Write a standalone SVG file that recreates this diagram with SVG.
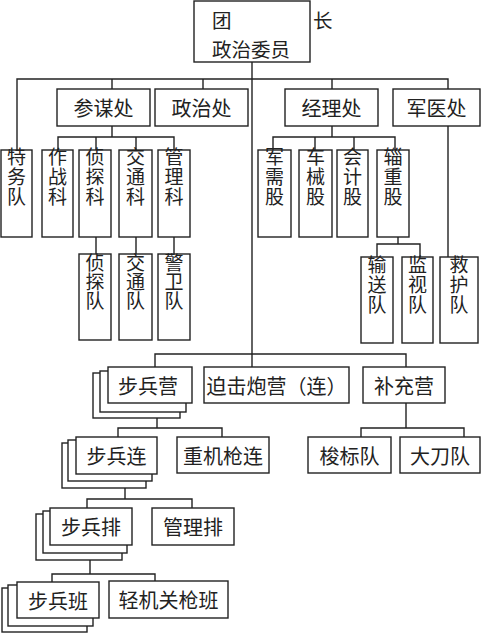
<svg xmlns="http://www.w3.org/2000/svg" width="481" height="634" viewBox="0 0 481 634">
<style>
rect{fill:#fff;stroke:#222;stroke-width:1.4}
.c path{fill:none;stroke:#222;stroke-width:1.4}
text{font-family:"Noto Sans CJK SC",sans-serif;font-size:20px;fill:#222;dominant-baseline:central}
.h{text-anchor:middle}
.t{font-size:19.5px}
.v{writing-mode:vertical-rl;text-orientation:upright;font-size:19px;letter-spacing:1px}
.v2{writing-mode:vertical-rl;text-orientation:upright;font-size:19px;letter-spacing:0px}
</style>
<rect x="0" y="0" width="481" height="634" style="stroke:none"/>
<g class="c">
<path d="M252,62V368"/>
<path d="M17,150V79H448V257"/>
<path d="M112,79V89M203,79V89M332,79V89"/>
<path d="M112,126V137M58,150V137H174V150M96,137V150M136,137V150"/>
<path d="M96,237V254M136,237V254M174,237V254"/>
<path d="M332,126V137M273,150V137H395V150M315,137V150M354,137V150"/>
<path d="M398,237V244M377,257V244H420V257"/>
<path d="M155,367V354H406V367"/>
<path d="M157,418V428M118,437V428H222V437"/>
<path d="M406,403V428M361,437V428H464V437"/>
<path d="M125,488V499M87,508V499H192V508"/>
<path d="M90,560V574M52,582V574H155V581"/>
</g>
<g id="n-head"><rect x="194" y="1" width="116" height="61"/><text class="t" x="212" y="19.5">团</text><text class="t" x="313" y="19.5">长</text><text class="t" x="212" y="48.5">政治委员</text></g>
<g id="n-canmou"><rect x="57" y="89" width="93" height="37"/><text class="h" x="103.5" y="107.5">参谋处</text></g>
<g id="n-zhengzhi"><rect x="155" y="89" width="93" height="37"/><text class="h" x="201.5" y="107.5">政治处</text></g>
<g id="n-jingli"><rect x="285" y="89" width="93" height="37"/><text class="h" x="331.5" y="107.5">经理处</text></g>
<g id="n-junyi"><rect x="393" y="89" width="87" height="37"/><text class="h" x="436.5" y="107.5">军医处</text></g>
<g id="n-tewu"><rect x="1" y="150" width="31" height="87"/><text class="v" x="16.5" y="147.5">特务队</text></g>
<g id="n-zuozhan"><rect x="42" y="150" width="31" height="87"/><text class="v" x="57.5" y="147.5">作战科</text></g>
<g id="n-zhentanke"><rect x="79" y="150" width="32" height="87"/><text class="v" x="95" y="147.5">侦探科</text></g>
<g id="n-jiaotongke"><rect x="119" y="150" width="33" height="87"/><text class="v" x="135.5" y="147.5">交通科</text></g>
<g id="n-guanlike"><rect x="158" y="150" width="32" height="87"/><text class="v" x="174" y="147.5">管理科</text></g>
<g id="n-zhentandui"><rect x="79" y="254" width="32" height="86"/><text class="v2" x="95" y="253.5">侦探队</text></g>
<g id="n-jiaotongdui"><rect x="119" y="254" width="33" height="86"/><text class="v2" x="135.5" y="253.5">交通队</text></g>
<g id="n-jingwei"><rect x="158" y="254" width="32" height="86"/><text class="v2" x="174" y="253.5">警卫队</text></g>
<g id="n-junxu"><rect x="258" y="150" width="33" height="87"/><text class="v" x="274.5" y="147.5">军需股</text></g>
<g id="n-chexie"><rect x="299" y="150" width="33" height="87"/><text class="v" x="315.5" y="147.5">车械股</text></g>
<g id="n-kuaiji"><rect x="337" y="150" width="31" height="87"/><text class="v" x="352.5" y="147.5">会计股</text></g>
<g id="n-zizhong"><rect x="377" y="150" width="32" height="87"/><text class="v" x="393" y="147.5">辎重股</text></g>
<g id="n-shusong"><rect x="361" y="257" width="32" height="86"/><text class="v" x="377" y="255.5">输送队</text></g>
<g id="n-jianshi"><rect x="402" y="257" width="31" height="86"/><text class="v" x="417.5" y="255.5">监视队</text></g>
<g id="n-jiuhu"><rect x="440" y="257" width="38" height="86"/><text class="v" x="459" y="255.5">救护队</text></g>
<g id="n-bubingying"><rect x="93" y="373" width="87" height="45"/><rect x="100" y="371" width="86" height="41"/><rect x="108" y="367" width="84" height="36"/><text class="h" x="148" y="385">步兵营</text></g>
<g id="n-pojipao"><rect x="204" y="367" width="145" height="36"/><text class="h" x="276.5" y="385">迫击炮营（连）</text></g>
<g id="n-buchong"><rect x="363" y="367" width="82" height="36"/><text class="h" x="404" y="385">补充营</text></g>
<g id="n-bubinglian"><rect x="62" y="443" width="84" height="45"/><rect x="68" y="440" width="84" height="41"/><rect x="76" y="437" width="81" height="37"/><text class="h" x="116.5" y="455.5">步兵连</text></g>
<g id="n-zhongjiqiang"><rect x="177" y="437" width="92" height="36"/><text class="h" x="223" y="455">重机枪连</text></g>
<g id="n-suobiao"><rect x="308" y="437" width="83" height="36"/><text class="h" x="349.5" y="455">梭标队</text></g>
<g id="n-dadao"><rect x="400" y="437" width="80" height="36"/><text class="h" x="440" y="455">大刀队</text></g>
<g id="n-bubingpai"><rect x="36" y="514" width="86" height="46"/><rect x="43" y="511" width="84" height="42"/><rect x="50" y="508" width="82" height="37"/><text class="h" x="91" y="526.5">步兵排</text></g>
<g id="n-guanlipai"><rect x="152" y="508" width="82" height="37"/><text class="h" x="193" y="526.5">管理排</text></g>
<g id="n-bubingban"><rect x="2" y="588" width="85" height="44"/><rect x="8" y="585" width="85" height="41"/><rect x="17" y="582" width="82" height="36"/><text class="h" x="58" y="600">步兵班</text></g>
<g id="n-qingji"><rect x="109" y="581" width="119" height="37"/><text class="h" x="168.5" y="599.5">轻机关枪班</text></g>
</svg>
